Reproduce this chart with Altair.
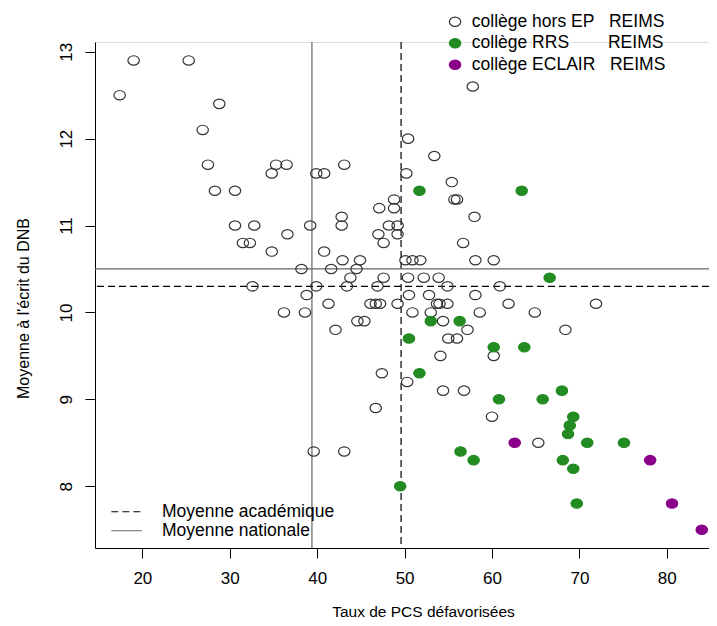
import altair as alt
import pandas as pd

# ---- data ----
hors_x = [19.0, 25.3, 17.4, 28.8, 26.9, 27.5, 35.3, 36.5, 34.8, 43.1, 39.9, 40.8, 28.3, 30.6,
          30.6, 32.8, 31.5, 32.3, 36.6, 34.8, 39.2, 42.8, 42.8, 40.8, 47.1, 48.8, 48.8, 48.2,
          49.2, 47.0, 49.2, 47.6, 42.9, 44.9, 50.1, 50.4, 50.2, 57.8, 53.4, 55.4, 55.7, 56.0,
          58.0, 56.7, 50.9, 51.8, 58.1, 60.2, 38.2, 41.6, 44.5, 43.8, 47.6, 50.4, 52.2, 53.9,
          54.9, 60.9, 32.6, 39.9, 43.4, 46.9, 38.8, 50.5, 52.8, 58.1, 41.3, 46.1, 46.7, 47.2,
          49.2, 53.7, 54.0, 54.9, 61.9, 71.9, 36.2, 38.6, 50.9, 53.0, 58.6, 64.9, 44.6, 45.4,
          54.4, 42.1, 57.2, 68.4, 55.0, 56.0, 54.1, 60.2, 47.4, 50.3, 54.4, 56.8, 46.7, 60.0,
          65.3, 39.6, 43.1]
hors_y = [12.9, 12.9, 12.5, 12.4, 12.1, 11.7, 11.7, 11.7, 11.6, 11.7, 11.6, 11.6, 11.4, 11.4,
          11.0, 11.0, 10.8, 10.8, 10.9, 10.7, 11.0, 11.1, 11.0, 10.7, 11.2, 11.3, 11.2, 11.0,
          11.0, 10.9, 10.9, 10.8, 10.6, 10.6, 10.6, 12.0, 11.6, 12.6, 11.8, 11.5, 11.3, 11.3,
          11.1, 10.8, 10.6, 10.6, 10.6, 10.6, 10.5, 10.5, 10.5, 10.4, 10.4, 10.4, 10.4, 10.4,
          10.3, 10.3, 10.3, 10.3, 10.3, 10.3, 10.2, 10.2, 10.2, 10.2, 10.1, 10.1, 10.1, 10.1,
          10.1, 10.1, 10.1, 10.1, 10.1, 10.1, 10.0, 10.0, 10.0, 10.0, 10.0, 10.0, 9.9, 9.9,
          9.9, 9.8, 9.8, 9.8, 9.7, 9.7, 9.5, 9.5, 9.3, 9.2, 9.1, 9.1, 8.9, 8.8,
          8.5, 8.4, 8.4]
rrs_x = [51.7, 63.4, 66.6, 53.0, 56.3, 50.5, 60.2, 63.7, 51.7, 68.0, 60.8, 65.8, 69.3, 68.9,
         68.7, 70.9, 75.1, 56.4, 57.9, 68.1, 69.3, 49.5, 69.7]
rrs_y = [11.4, 11.4, 10.4, 9.9, 9.9, 9.7, 9.6, 9.6, 9.3, 9.1, 9.0, 9.0, 8.8, 8.7,
         8.6, 8.5, 8.5, 8.4, 8.3, 8.3, 8.2, 8.0, 7.8]
eclair_x = [62.6, 78.1, 80.6, 84.0]
eclair_y = [8.5, 8.3, 7.8, 7.5]

NB = "\u00a0"
categories = ["collège hors EP" + NB * 3 + "REIMS",
              "collège RRS" + NB * 8 + "REIMS",
              "collège ECLAIR" + NB * 3 + "REIMS"]
point_strokes = ["#333333", "#228B22", "#8B008B"]
point_fills = ["transparent", "#228B22", "#8B008B"]

mean_types = ["Moyenne académique", "Moyenne nationale"]
mean_strokes = ["black", "#666666"]
mean_x = [49.6, 39.4]
mean_y = [10.3, 10.5]

x_ticks = [20, 30, 40, 50, 60, 70, 80]
y_ticks = [8, 9, 10, 11, 12, 13]

# ---- tables ----
rows = []
for xs, ys, c in [(hors_x, hors_y, categories[0]), (rrs_x, rrs_y, categories[1]),
                  (eclair_x, eclair_y, categories[2])]:
    for a, b in zip(xs, ys):
        rows.append({"x": a, "y": b, "cat": c})
points_df = pd.DataFrame(rows)
means_df = pd.DataFrame({"type": mean_types, "x": mean_x, "y": mean_y})

FONT = "Liberation Sans"
ELL = ("M-1,0C-1,-0.45,-0.55,-0.82,0,-0.82C0.55,-0.82,1,-0.45,1,0"
       "C1,0.45,0.55,0.82,0,0.82C-0.55,0.82,-1,0.45,-1,0Z")

xscale = alt.Scale(domain=[14.58, 84.83], nice=False, zero=False)
yscale = alt.Scale(domain=[7.289, 13.112], nice=False, zero=False)

xaxis = alt.Axis(values=x_ticks, title="Taux de PCS défavorisées", grid=False,
                 tickSize=10, tickColor="black", domainColor="black",
                 labelPadding=12, labelFontSize=17, labelFont=FONT, labelColor="black",
                 labelFlush=False, titleFont=FONT, titleFontSize=15.5,
                 titleFontWeight="normal", titleColor="black",
                 titleX=328, titleY=68, titleAlign="center", titleBaseline="alphabetic")
yaxis = alt.Axis(values=y_ticks, title="Moyenne à l'écrit du DNB", grid=False,
                 tickSize=10, tickColor="black", domainColor="black",
                 labelAngle=270, labelAlign="center", labelBaseline="alphabetic",
                 labelPadding=14, labelFontSize=17, labelFont=FONT, labelColor="black",
                 labelFlush=False, titleFont=FONT, titleFontSize=16,
                 titleFontWeight="normal", titleColor="black",
                 titleAngle=270, titleX=-71.5, titleY=266, titleAlign="center",
                 titleBaseline="middle")

pts_stroke_expr = ("indexof(datum.value, 'hors') >= 0 ? '%s' : "
                   "(indexof(datum.value, 'RRS') >= 0 ? '%s' : '%s')" % tuple(point_strokes))
mean_stroke_expr = "datum.value == '%s' ? '%s' : '%s'" % (mean_types[0], mean_strokes[0], mean_strokes[1])

leg_pts = alt.Legend(title=None, orient="none", legendX=351.3, legendY=-29,
                     symbolType=ELL, symbolSize=130, symbolStrokeWidth=1.2,
                     symbolStrokeColor={"expr": pts_stroke_expr},
                     symbolOpacity=1, labelFont=FONT, labelFontSize=17.5,
                     labelColor="black", labelOffset=8, rowPadding=2.5,
                     labelLimit=400, padding=0)
leg_mean = alt.Legend(title=None, orient="none", legendX=22.9, legendY=461,
                      symbolType="M-3,0L3,0", symbolSize=104, symbolStrokeWidth=1.2,
                      symbolStrokeColor={"expr": mean_stroke_expr},
                      labelFont=FONT, labelFontSize=17.5, labelColor="black",
                      labelOffset=26.6, rowPadding=0, labelLimit=400, padding=0)

stroke_mean = alt.Stroke("type:N", scale=alt.Scale(domain=mean_types, range=mean_strokes),
                         legend=None)
dash_mean = alt.StrokeDash("type:N", scale=alt.Scale(domain=mean_types, range=[[7, 4], [1, 0]]),
                           legend=leg_mean)

vrule = alt.Chart(means_df).mark_rule(strokeWidth=1.2).encode(
    x=alt.X("x:Q", scale=xscale, axis=xaxis),
    stroke=stroke_mean,
    strokeDash=dash_mean,
)
hrule = alt.Chart(means_df).mark_rule(strokeWidth=1.2).encode(
    y=alt.Y("y:Q", scale=yscale, axis=yaxis),
    stroke=stroke_mean,
    strokeDash=dash_mean,
)
rules = alt.layer(vrule, hrule)

pts = alt.Chart(points_df).mark_point(shape=ELL, size=130, strokeWidth=1.2, opacity=1).encode(
    x=alt.X("x:Q", scale=xscale, axis=xaxis),
    y=alt.Y("y:Q", scale=yscale, axis=yaxis),
    fill=alt.Fill("cat:N", scale=alt.Scale(domain=categories, range=point_fills), legend=leg_pts),
    stroke=alt.Stroke("cat:N", scale=alt.Scale(domain=categories, range=point_strokes), legend=None),
)

chart = alt.layer(rules, pts).resolve_scale(stroke="independent").properties(
    width=614, height=506,
    padding={"left": 87, "top": 34, "right": 0, "bottom": 70},
    autosize=alt.AutoSizeParams(type="none"),
).configure_view(strokeWidth=0).configure(font=FONT)

chart.save("out.html", embed_options={"renderer": "svg", "actions": False})
